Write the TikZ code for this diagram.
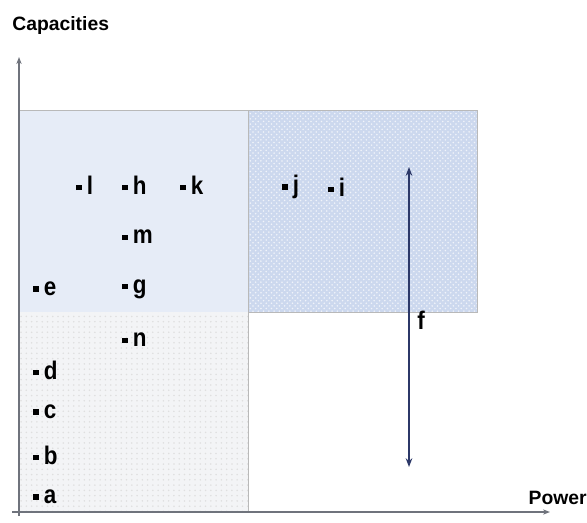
\documentclass[tikz,border=0pt]{standalone}
\usepackage{fontspec}
\setmainfont{Liberation Sans}
\newfontfamily\techfont[FakeStretch=0.88]{Liberation Sans}
\usepackage{tikz}
\usetikzlibrary{arrows.meta, patterns}

\definecolor{axisgray}{HTML}{6F737C}
\definecolor{paleblue}{HTML}{E6ECF7}
\definecolor{midblue}{HTML}{CCD8EE}
\definecolor{palegray}{HTML}{F3F4F6}
\definecolor{arrownavy}{HTML}{2C3868}

\newcommand{\sqmark}{\rule[0.3ex]{3pt}{3pt}\hspace{3pt}}

\begin{document}
\begin{tikzpicture}[
    x=0.02cm, y=-0.02cm, >=Stealth,
    tech/.style={anchor=west, inner sep=0pt, font=\techfont\bfseries\fontsize{14.5}{15}\selectfont},
    axlabel/.style={inner sep=0pt, font=\bfseries\fontsize{11}{12}\selectfont},
    zone/.style={draw=gray!55, line width=0.5pt}
]
    \useasboundingbox (0,0) rectangle (587,522);

    % Bereiche
    \fill[palegray] (19,312) rectangle (248,512);
    \fill[paleblue] (19,110) rectangle (248,312);
    \fill[midblue] (248,110) rectangle (477,312);
    \fill[pattern=crosshatch dots, pattern color=white!70!midblue] (248,110) rectangle (477,312);
    \fill[pattern=dots, pattern color=gray!25] (19,312) rectangle (248,512);
    \draw[zone] (19,110) -- (477,110) -- (477,312) -- (248,312);
    \draw[zone] (248,110) -- (248,512);

    % Achsen
    \coordinate (origin) at (19,512);
    \coordinate (ytip) at (19,57);
    \coordinate (xtip) at (550,512);
    \draw[axisgray, line width=1.1pt, -{Stealth[length=4pt]}] (19,516) -- (ytip);
    \draw[axisgray, line width=1.1pt, -{Stealth[length=4pt]}] (12,512) -- (xtip);
    \node[axlabel, anchor=west] (cap) at (12,25) {Capacities};
    \node[axlabel, anchor=east] (pow) at (587,498) {Power};

    % Technologien
    \node[tech] (l) at (76,185) {\sqmark l};
    \node[tech] (h) at (122,185) {\sqmark h};
    \node[tech] (k) at (180,185) {\sqmark k};
    \node[tech] (j) at (282,187) {\sqmark j};
    \node[tech] (i) at (328,187) {\sqmark i};
    \node[tech] (m) at (122,237) {\sqmark m};
    \node[tech] (e) at (33,289) {\sqmark e};
    \node[tech] (g) at (122,289) {\sqmark g};
    \node[tech] (n) at (122,340) {\sqmark n};
    \node[tech] (d) at (33,370) {\sqmark d};
    \node[tech] (c) at (33,412) {\sqmark c};
    \node[tech] (b) at (33,455) {\sqmark b};
    \node[tech] (a) at (33,497) {\sqmark a};

    % Spanne f
    \coordinate (ftop) at (409,167);
    \coordinate (fbot) at (409,467);
    \draw[arrownavy, line width=1.2pt, {Stealth[length=5pt]}-{Stealth[length=5pt]}] (fbot) -- (ftop);
    \node[tech] (f) at (417,320) {f};
\end{tikzpicture}
\end{document}
